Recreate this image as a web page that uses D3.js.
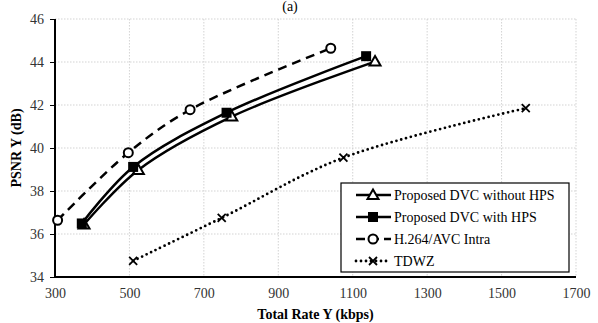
<!DOCTYPE html>
<html><head><meta charset="utf-8">
<script src="https://cdn.jsdelivr.net/npm/d3@7"></script>
<style>body{margin:0;background:#fff}svg{display:block}
svg text{font-family:"Liberation Serif","Tinos","Times New Roman","DejaVu Serif",serif !important;}</style>
</head><body>
<svg id="c" width="598" height="323"></svg>
<script>
const xTicks = [300,500,700,900,1100,1300,1500,1700];
const yTicks = [34,36,38,40,42,44,46];
const seriesNames = ["Proposed DVC without HPS","Proposed DVC with HPS","H.264/AVC Intra","TDWZ"];
const rateNoHPS = [378,524,775,1160];
const psnrNoHPS = [36.44,38.98,41.46,44.02];
const rateHPS = [372,510,761,1136];
const psnrHPS = [36.49,39.12,41.64,44.27];
const rateH264 = [307,497,663,1041];
const psnrH264 = [36.64,39.78,41.78,44.64];
const rateTDWZ = [510,748,1075,1565];
const psnrTDWZ = [34.75,36.75,39.55,41.85];

const svg = d3.select("#c");
const L=55,R=576,T=19,B=277;
const x = d3.scaleLinear().domain([300,1700]).range([L,R]);
const y = d3.scaleLinear().domain([34,46]).range([B,T]);

// grid
svg.append("g").selectAll("line").data(yTicks.slice(1)).join("line")
  .attr("x1",L).attr("x2",R).attr("y1",d=>y(d)).attr("y2",d=>y(d))
  .attr("stroke","#c8c8c8").attr("stroke-width",0.8).attr("stroke-dasharray","1.5,1.5");
svg.append("g").selectAll("line").data(xTicks.slice(1)).join("line")
  .attr("y1",T).attr("y2",B).attr("x1",d=>x(d)).attr("x2",d=>x(d))
  .attr("stroke","#c8c8c8").attr("stroke-width",0.8).attr("stroke-dasharray","1.5,1.5");

// axes
const ya = svg.append("g").attr("transform",`translate(${L},0)`)
  .call(d3.axisLeft(y).tickValues(yTicks).tickSize(5).tickPadding(6).tickFormat(d3.format("d")));
ya.select(".domain").attr("stroke","#000").attr("stroke-width",2).attr("d",`M0,${T}V${B}`);
ya.selectAll(".tick line").attr("stroke","#000").attr("stroke-width",1);
ya.selectAll("text").attr("font-size",14).attr("fill","#333");

const xa = svg.append("g").attr("transform",`translate(0,${B})`)
  .call(d3.axisBottom(x).tickValues(xTicks).tickSize(0).tickPadding(11).tickFormat(d3.format("d")));
xa.select(".domain").attr("stroke","#000").attr("stroke-width",2).attr("d",`M${L},0H${R}`);
xa.selectAll("text").attr("font-size",14).attr("fill","#333");

// titles
svg.append("text").attr("x",(L+R)/2).attr("y",319).attr("text-anchor","middle")
  .attr("font-size",14).attr("font-weight","bold").text("Total Rate Y (kbps)");
svg.append("text").attr("transform",`translate(21,${(T+B)/2}) rotate(-90)`).attr("text-anchor","middle")
  .attr("font-size",14).attr("font-weight","bold").text("PSNR Y (dB)");
svg.append("text").attr("x",290).attr("y",11).attr("text-anchor","middle")
  .attr("font-size",14).text("(a)");

const curve = d3.curveCatmullRom.alpha(0.5);
const line = d3.line().x(d=>x(d[0])).y(d=>y(d[1])).curve(curve);
const zip = (a,b)=>a.map((v,i)=>[v,b[i]]);
const data = [
  {pts:zip(rateNoHPS,psnrNoHPS), dash:null, w:2.5, m:"tri"},
  {pts:zip(rateHPS,psnrHPS), dash:null, w:2.5, m:"sq"},
  {pts:zip(rateH264,psnrH264), dash:"9,6", w:2.5, m:"circ"},
  {pts:zip(rateTDWZ,psnrTDWZ), dash:"0,5", w:2.8, m:"x"}
];
function marker(g,type,cx,cy){
  if(type==="tri") g.append("path").attr("d",`M${cx},${cy-5.5}L${cx+5.5},${cy+4}L${cx-5.5},${cy+4}Z`)
    .attr("fill","#fff").attr("stroke","#000").attr("stroke-width",2);
  else if(type==="sq") g.append("rect").attr("x",cx-5).attr("y",cy-5).attr("width",10).attr("height",10).attr("fill","#000");
  else if(type==="circ") g.append("circle").attr("cx",cx).attr("cy",cy).attr("r",4.5)
    .attr("fill","#fff").attr("stroke","#000").attr("stroke-width",2);
  else g.append("path").attr("d",`M${cx-4},${cy-4}L${cx+4},${cy+4}M${cx-4},${cy+4}L${cx+4},${cy-4}`)
    .attr("stroke","#000").attr("stroke-width",1.8);
}
data.forEach(s=>{
  const p = svg.append("path").attr("d",line(s.pts)).attr("fill","none").attr("stroke","#000")
    .attr("stroke-width",s.w);
  if(s.dash) p.attr("stroke-dasharray",s.dash);
  if(s.m==="x") p.attr("stroke-linecap","round");
  const g = svg.append("g");
  s.pts.forEach(d=>marker(g,s.m,x(d[0]),y(d[1])));
});

// legend
const lg = svg.append("g");
lg.append("rect").attr("x",341).attr("y",183).attr("width",228).attr("height",89)
  .attr("fill","#fff").attr("stroke","#000").attr("stroke-width",1.2);
const rows = [195,217,239,261];
data.forEach((s,i)=>{
  const yy = rows[i];
  const p = lg.append("line").attr("x1",356).attr("x2",391).attr("y1",yy).attr("y2",yy)
    .attr("stroke","#000").attr("stroke-width",s.w);
  if(s.dash) p.attr("stroke-dasharray", s.m==="circ" ? "9,5" : s.dash);
  if(s.m==="x") p.attr("stroke-linecap","round");
  marker(lg,s.m,373,yy);
  lg.append("text").attr("x",394).attr("y",yy+5).attr("font-size",14)
    .attr("fill","#000").text(seriesNames[i]);
});
</script>
</body></html>
